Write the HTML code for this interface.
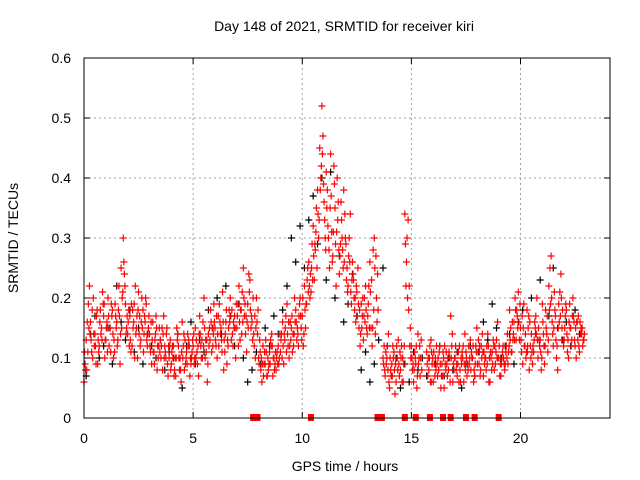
<!DOCTYPE html>
<html><head><meta charset="utf-8"><style>
body{margin:0;background:#fff}
svg{display:block;font-family:"Liberation Sans",sans-serif}
</style></head><body>
<svg id="chart" width="640" height="480" viewBox="0 0 640 480" xmlns="http://www.w3.org/2000/svg">
<rect width="640" height="480" fill="#fff"/>
<g id="grid"></g>
<g id="marks"></g>
<rect x="84" y="58" width="526" height="360" fill="none" stroke="#000" stroke-width="1"/>
<g id="ticks" font-size="14" fill="#000"></g>
<text x="344" y="31" font-size="14" text-anchor="middle">Day 148 of 2021, SRMTID for receiver kiri</text>
<text x="345" y="471" font-size="14" text-anchor="middle">GPS time / hours</text>
<text x="18" y="238" font-size="14" text-anchor="middle" transform="rotate(-90 18 238)">SRMTID / TECUs</text>
</svg>
<script>
const xTicks=[0,5,10,15,20];
const yTicks=[0,0.1,0.2,0.3,0.4,0.5,0.6];
const yTickLabels=["0","0.1","0.2","0.3","0.4","0.5","0.6"];
const redA=[.06,.13,.19,.16,.10,.14,.18,.12,.15,.17,
.13,.20,.15,.18,.11,.16,.22,.25,.30,.19,
.14,.17,.12,.19,.15,.21,.13,.18,.16,.12,
.14,.09,.11,.17,.10,.13,.08,.12,.15,.10,
.09,.12,.07,.14,.10,.16,.08,.11,.13,.09,
.12,.15,.09,.17,.13,.20,.11,.14,.18,.12,
.15,.10,.19,.13,.08,.16,.12,.20,.14,.17,
.15,.22,.18,.25,.14,.19,.23,.16,.12,.20,
.10,.08,.12,.09,.07,.11,.14,.10,.08,.12,
.11,.16,.13,.19,.10,.15,.12,.18,.14,.20,
.17,.22,.19,.26,.21,.32,.28,.38,.45,.52,
.36,.41,.30,.44,.27,.35,.40,.24,.33,.38,
.29,.22,.34,.26,.18,.21,.15,.19,.13,.22,
.17,.26,.12,.30,.20,null,null,.10,.07,.12,
.05,.09,.11,.06,.13,.08,.10,.34,.30,.22,
.12,.06,.09,.14,.07,null,null,.11,.08,.13,
.06,.10,.07,.12,.09,.05,.11,.08,.17,.06,
.10,.07,.12,.09,.06,.11,.08,.13,.10,.07,
.15,.09,.12,.07,.10,.14,.06,.11,.08,.13,
.10,.07,.12,.09,.14,.18,.11,.16,.13,.21,
.15,.09,.12,.18,.08,.14,.11,.17,.10,.13,
.19,.09,.14,.22,.27,.12,.17,.08,.21,.15,
.13,.18,.10,.15,.20,.12,.16,.11,.14,.13];
const redB=[.09,.16,.22,.11,.14,.09,.13,.18,.21,.10,
.16,.12,.19,.10,.17,.13,.09,.20,.24,.15,
.18,.11,.15,.22,.10,.17,.20,.14,.19,.15,
.11,.16,.13,.08,.15,.12,.17,.10,.07,.13,
.12,.08,.15,.10,.06,.12,.09,.14,.07,.11,
.09,.13,.07,.12,.16,.10,.06,.15,.11,.19,
.12,.17,.14,.21,.11,.09,.18,.13,.16,.10,
.19,.13,.21,.17,.11,.24,.15,.20,.10,.14,
.13,.06,.09,.11,.08,.13,.07,.09,.11,.10,
.14,.09,.17,.12,.16,.11,.20,.13,.17,.15,
.12,.15,.25,.20,.29,.23,.35,.30,.40,.47,
.30,.38,.25,.31,.42,.22,.36,.29,.28,.34,
.25,.30,.19,.23,.16,.25,.12,.17,.20,.15,
.22,.15,.28,.14,.24,null,null,.12,.09,.14,
.08,.12,.04,.10,.07,.12,.09,.22,.33,.15,
.08,.11,.05,.10,.13,null,null,.07,.12,.09,
.09,.12,.08,.05,.11,.09,.07,.10,.12,.08,
.08,.11,.06,.10,.14,.07,.09,.11,.06,.12,
.11,.07,.14,.09,.12,.06,.10,.13,.09,.16,
.07,.10,.09,.12,.11,.15,.13,.20,.17,.13,
.11,.19,.10,.15,.12,.09,.16,.20,.13,.08,
.14,.18,.11,.25,.16,.21,.10,.19,.24,.13,
.17,.11,.19,.13,.16,.10,.17,.14,.12,null];
const redC=[.11,.08,.15,.13,.20,.12,.09,.16,.13,.19,
.15,.17,.11,.14,.19,.12,.17,.15,.26,.14,
.16,.13,.18,.10,.17,.14,.16,.11,.20,.14,
.12,.13,.09,.15,.12,.10,.14,.11,.09,.12,
.11,.07,.10,.12,.08,.10,.13,.09,.12,.10,
.14,.10,.12,.14,.10,.15,.13,.12,.16,.14,
.13,.14,.16,.11,.13,.18,.15,.17,.12,.15,
.17,.16,.14,.20,.17,.15,.18,.13,.17,.16,
.09,.10,.07,.13,.10,.09,.12,.08,.10,.09,
.13,.12,.15,.14,.12,.17,.14,.16,.12,.17,
.20,.18,.23,.22,.25,.27,.31,.34,.38,.44,
.33,.35,.28,.37,.31,.29,.33,.27,.30,.26,
.23,.27,.21,.24,.20,.17,.18,.15,.17,.18,
.19,.21,.15,.25,.16,null,null,.09,.11,.08,
.10,.07,.08,.12,.09,.10,.06,.29,.20,.12,
.10,.08,.12,.09,.10,null,null,.09,.10,.11,
.11,.08,.10,.09,.07,.12,.09,.11,.10,.09,
.12,.09,.08,.11,.09,.10,.12,.08,.12,.09,
.09,.12,.10,.11,.08,.12,.11,.09,.12,.10,
.12,.09,.10,.11,.09,.13,.16,.13,.18,.16,
.13,.15,.14,.12,.16,.11,.13,.14,.15,.11,
.16,.12,.17,.18,.20,.15,.13,.15,.17,.18,
.15,.14,.16,.12,.17,.15,.13,.16,.15,.14];
const redD=[.08,.11,.14,.18,.12,.17,.11,.14,.19,.13,
.11,.15,.17,.13,.15,.18,.14,.21,.22,.17,
.12,.19,.16,.14,.18,.12,.15,.17,.13,.17,
.16,.11,.14,.12,.11,.15,.10,.14,.12,.08,
.10,.10,.13,.08,.11,.14,.10,.12,.10,.13,
.10,.11,.14,.10,.12,.13,.09,.13,.15,.16,
.17,.12,.15,.16,.14,.13,.16,.18,.15,.19,
.12,.18,.16,.19,.16,.21,.17,.14,.15,.18,
.11,.09,.11,.07,.09,.12,.10,.11,.09,.14,
.10,.14,.11,.16,.13,.14,.16,.15,.19,.13,
.14,.19,.21,.24,.23,.29,.25,.33,.42,.39,
.28,.32,.35,.26,.39,.31,.28,.36,.25,.30,
.21,.26,.23,.20,.22,.19,.14,.20,.16,.14,
.15,.23,.18,.27,.18,null,null,.08,.10,.06,
.07,.10,.09,.08,.11,.06,.12,.26,.18,.10,
.09,.10,.07,.12,.08,null,null,.10,.06,.10,
.07,.09,.11,.07,.10,.08,.10,.06,.14,.10,
.09,.06,.10,.12,.08,.09,.10,.10,.08,.11,
.13,.08,.11,.10,.09,.10,.08,.12,.11,.10,
.09,.11,.08,.10,.12,.11,.14,.18,.15,.19,
.17,.12,.11,.17,.10,.12,.15,.13,.12,.10,
.12,.15,.13,.19,.14,.18,.12,.16,.20,.12,
.19,.13,.15,.17,.13,.16,.12,.15,.13,null];
const blackV=[.07,.14,.17,.10,.12,.15,.09,.22,.16,.13,
.18,.11,.15,.09,.14,.12,.10,.13,.08,.11,
.10,.14,.05,.12,.16,.09,.13,.11,.18,.15,
.20,.14,.22,.17,.12,.19,.10,.06,.08,.11,
.09,.15,.12,.17,.14,.18,.22,.30,.26,.32,
.25,.33,.37,.29,.40,.23,.41,.20,.27,.16,
.19,.24,.17,.08,.11,.06,.09,.13,.25,.12,
.07,.10,.05,.09,.06,.11,.08,.10,.07,.06,
.09,.12,.07,.10,.08,.11,.05,.09,.12,.07,
.11,.16,.13,.19,.15,.10,.12,.14,.09,.16,
.18,.11,.20,.14,.23,.12,.17,.25,.15,.13,
.16,.12,.18,.14];
const zeroTimes=[7.75,7.95,10.4,13.45,13.65,14.7,15.2,15.85,16.45,16.8,17.5,17.9,19.0];
const X=t=>84+t*(526/24.1);
const Y=v=>418-v*600;
const NS="http://www.w3.org/2000/svg";
const grid=document.getElementById('grid'),ticks=document.getElementById('ticks'),marks=document.getElementById('marks');
function mk(tag,attrs,parent){const e=document.createElementNS(NS,tag);for(const k in attrs)e.setAttribute(k,attrs[k]);parent.appendChild(e);return e;}
yTicks.forEach((v,i)=>{
  if(i>0&&i<yTicks.length-1){const g=mk('line',{x1:84,x2:610,y1:Y(v),y2:Y(v),stroke:'#a0a0a0','stroke-dasharray':'2,3'},grid);
  
  }
  const l=mk('text',{x:71,y:Y(v)+5,'text-anchor':'end'},ticks);l.textContent=yTickLabels[i];
  
  
  mk('line',{x1:84,x2:90,y1:Y(v),y2:Y(v),stroke:'#000'},ticks);
  mk('line',{x1:604,x2:610,y1:Y(v),y2:Y(v),stroke:'#000'},ticks);
});
xTicks.forEach(t=>{
  if(t>0){const g=mk('line',{x1:X(t),x2:X(t),y1:58,y2:418,stroke:'#a0a0a0','stroke-dasharray':'2,3'},grid);
  
  }
  const l=mk('text',{x:X(t),y:443,'text-anchor':'middle'},ticks);l.textContent=String(t);
  
  
  mk('line',{x1:X(t),x2:X(t),y1:412,y2:418,stroke:'#000'},ticks);
  mk('line',{x1:X(t),x2:X(t),y1:58,y2:64,stroke:'#000'},ticks);
});
function plus(t,v,color,name){
  const x=X(t),y=Y(v);
  const p=mk('path',{d:`M${x-3.5},${y}H${x+3.5}M${x},${y-3.5}V${y+3.5}`,stroke:color,'stroke-width':1.2,fill:'none'},marks);
  
  
}
blackV.forEach((v,i)=>{if(v!==null)plus(i*0.2+0.1,v,'#000','black-point');});
redA.forEach((v,i)=>{if(v!==null)plus(i*0.1,v,'#f00','red-point');});
redC.forEach((v,i)=>{if(v!==null)plus(i*0.1+0.025,v,'#f00','red-point');});
redB.forEach((v,i)=>{if(v!==null)plus(i*0.1+0.05,v,'#f00','red-point');});
redD.forEach((v,i)=>{if(v!==null)plus(i*0.1+0.075,v,'#f00','red-point');});
zeroTimes.forEach(t=>{
  const r=mk('rect',{x:X(t)-3,y:414,width:6,height:7,fill:'#f00'},marks);
  
  
});
</script>
</body></html>
